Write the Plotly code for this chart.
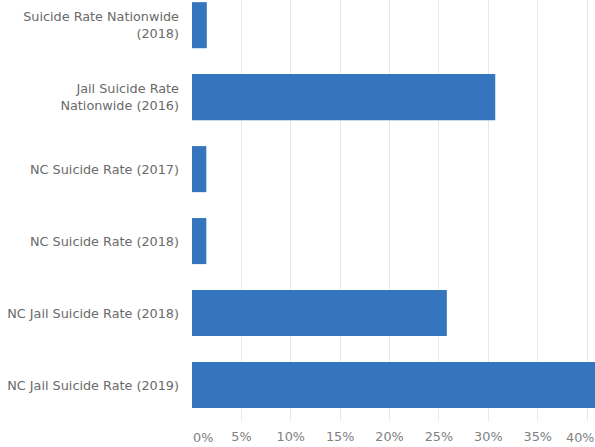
import plotly.graph_objects as go

categories = [
    "Suicide Rate Nationwide<br>(2018)",
    "Jail Suicide Rate<br>Nationwide (2016)",
    "NC Suicide Rate (2017)",
    "NC Suicide Rate (2018)",
    "NC Jail Suicide Rate (2018)",
    "NC Jail Suicide Rate (2019)",
]
values = [1.5, 30.7, 1.45, 1.45, 25.8, 41.0]
tick_vals = [0, 5, 10, 15, 20, 25, 30, 35, 40]
tick_text = ["0%", "5%", "10%", "15%", "20%", "25%", "30%", "35%", "40%"]

FONT = "DejaVu Sans, sans-serif"

fig = go.Figure(go.Bar(
    x=values, y=categories, orientation="h",
    marker=dict(color="#3575BD", line=dict(width=0)),
    width=0.64, hoverinfo="skip",
))

# edge tick labels are nudged inside the figure, as in the reference
shown_text = [""] + tick_text[1:-1] + [""]
fig.add_annotation(
    x=tick_vals[0], y=0, xref="x", yref="paper", yanchor="top", xanchor="left",
    text=tick_text[0], showarrow=False, yshift=-7, xshift=-1,
    font=dict(family=FONT, size=12.8, color="#808080"),
)
fig.add_annotation(
    x=tick_vals[-1], y=0, xref="x", yref="paper", yanchor="top", xanchor="right",
    text=tick_text[-1], showarrow=False, yshift=-7, xshift=9,
    font=dict(family=FONT, size=12.8, color="#808080"),
)

fig.update_layout(
    width=595, height=447,
    margin=dict(l=192, r=0, t=0, b=26, pad=0),
    paper_bgcolor="white", plot_bgcolor="white",
    font=dict(family=FONT, size=12.8, color="#6a6a6a"),
    showlegend=False,
    xaxis=dict(
        range=[0, 40.8], tickvals=tick_vals, ticktext=shown_text,
        showgrid=True, gridcolor="#e8e8e8", gridwidth=1,
        zeroline=False, showline=False, ticks="",
        ticklabelstandoff=6, tickfont=dict(size=12.8, color="#808080"),
        automargin=False,
    ),
    yaxis=dict(
        categoryorder="array", categoryarray=categories,
        range=[5.5, -0.35], showgrid=False, zeroline=False, showline=False,
        ticks="", ticklabelstandoff=12, automargin=False,
        tickfont=dict(size=12.8, color="#6a6a6a"),
    ),
)

fig.write_html("out.html", config={"displayModeBar": False},
               post_script="document.body.style.margin='0';")
